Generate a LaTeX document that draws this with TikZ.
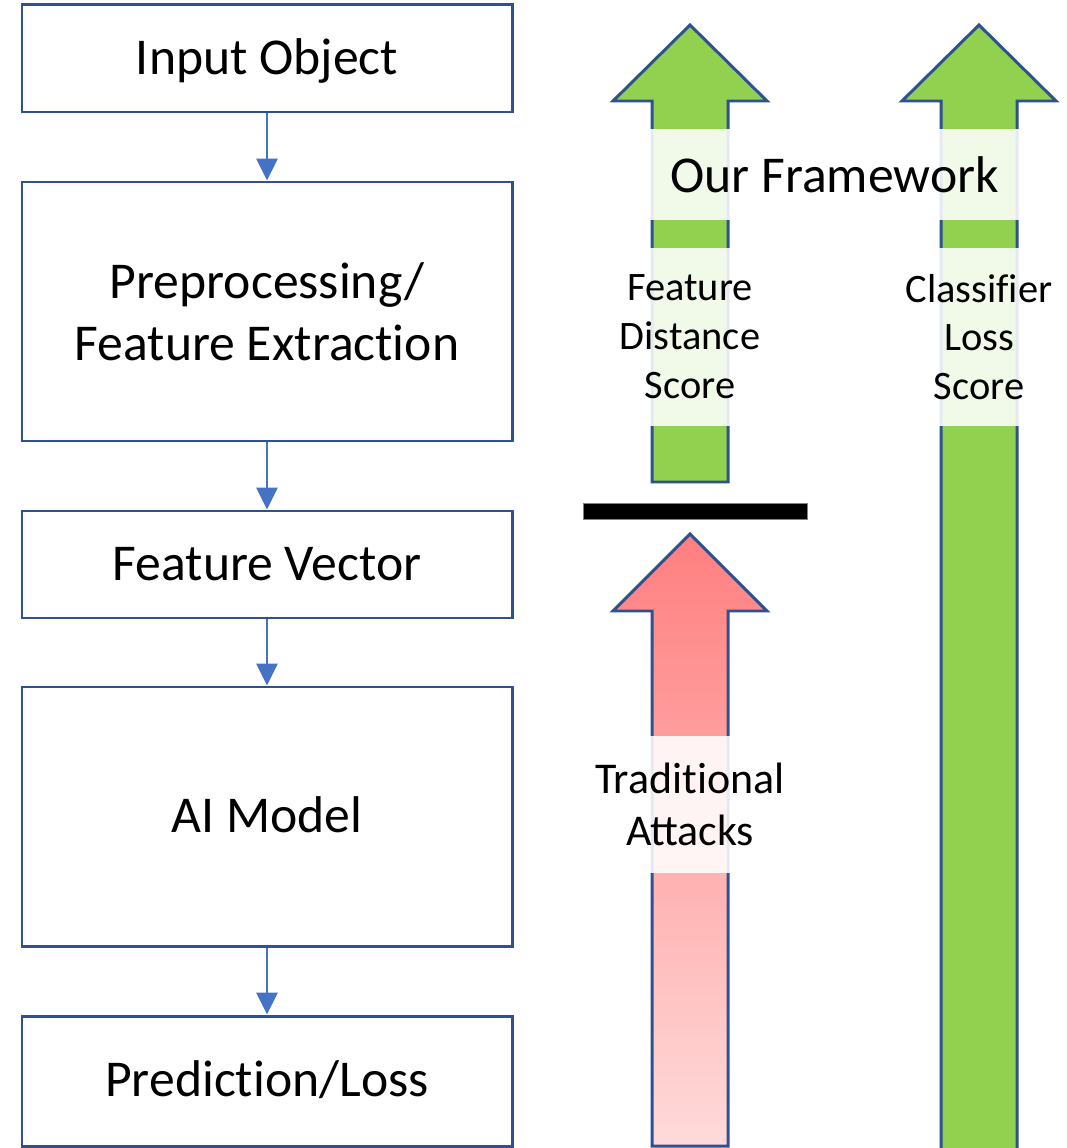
\documentclass[tikz,border=0pt]{standalone}
\usepackage{fontspec}
\setmainfont{Carlito}
\usetikzlibrary{arrows.meta}
\definecolor{boxline}{HTML}{2F528F}
\definecolor{flowblue}{HTML}{4472C4}
\definecolor{ourgreen}{HTML}{92D050}
\definecolor{attackred}{HTML}{FF7F7F}
\definecolor{attackpale}{HTML}{FFDADA}
\begin{document}
\begin{tikzpicture}[x=0.2mm, y=-0.2mm,
  box/.style={draw=boxline, line width=1.7pt, minimum width=98mm, align=center, font=\fontsize{29.4}{35}\selectfont},
  oneline/.style={text height=24pt, text depth=6pt},
  flow/.style={-{Triangle[length=12.5pt, width=12pt]}, line width=1.7pt, flowblue},
  bigarrow/.style={draw=boxline, line width=1.7pt, line join=miter},
  lbl/.style={fill=white, fill opacity=0.88, text opacity=1, align=center, inner xsep=4pt, inner ysep=0pt, font=\fontsize{23}{27.8}\selectfont}]
  \useasboundingbox (0,0) rectangle (1066,1148);
  \clip (0,0) rectangle (1066,1148);
  \node[box, oneline, minimum height=21.4mm] (inobj) at (267,58.5) {Input Object};
  \node[box, minimum height=51.8mm] (prep) at (267,311.5) {Preprocessing/\\Feature Extract\kern0pt ion};
  \node[box, oneline, minimum height=21.4mm] (fvec) at (267,564.5) {Feature Vector};
  \node[box, oneline, minimum height=51.8mm] (model) at (267,816.5) {AI Model};
  \node[box, oneline, minimum height=26mm] (pred) at (267,1081) {Predict\kern0pt ion/Loss};
  \draw[flow] (inobj) -- (prep);
  \draw[flow] (prep) -- (fvec);
  \draw[flow] (fvec) -- (model);
  \draw[flow] (model) -- (pred);
  \draw[bigarrow, fill=ourgreen] (652,482) -- (652,101) -- (613,101) -- (690,25) -- (767,101) -- (728,101) -- (728,482) -- cycle;
  \draw[bigarrow, fill=ourgreen] (941,1160) -- (941,101) -- (902,101) -- (979,25) -- (1056,101) -- (1017,101) -- (1017,1160) -- cycle;
  \draw[bigarrow, top color=attackred, bottom color=attackpale] (652,1146) -- (652,611) -- (613,611) -- (690,534) -- (767,611) -- (728,611) -- (728,1146) -- cycle;
  \draw[fill=black, draw=gray] (583,503) rectangle (807,519);
  \node[lbl, minimum width=76mm, minimum height=18.2mm, font=\fontsize{29.4}{35}\selectfont] (ours) at (834.5,174.5) {Our Framework};
  \node[lbl, minimum height=35.6mm] (fds) at (690,337) {Feature\\Distance\\Score};
  \node[lbl, minimum height=35.6mm] (cls) at (979,337) {Classif\kern0pt ier\\Loss\\Score};
  \node[lbl, minimum height=27.4mm, font=\fontsize{25}{30}\selectfont] (trad) at (690,804.5) {Tradit\kern0pt ional\\Attacks};
\end{tikzpicture}
\end{document}
